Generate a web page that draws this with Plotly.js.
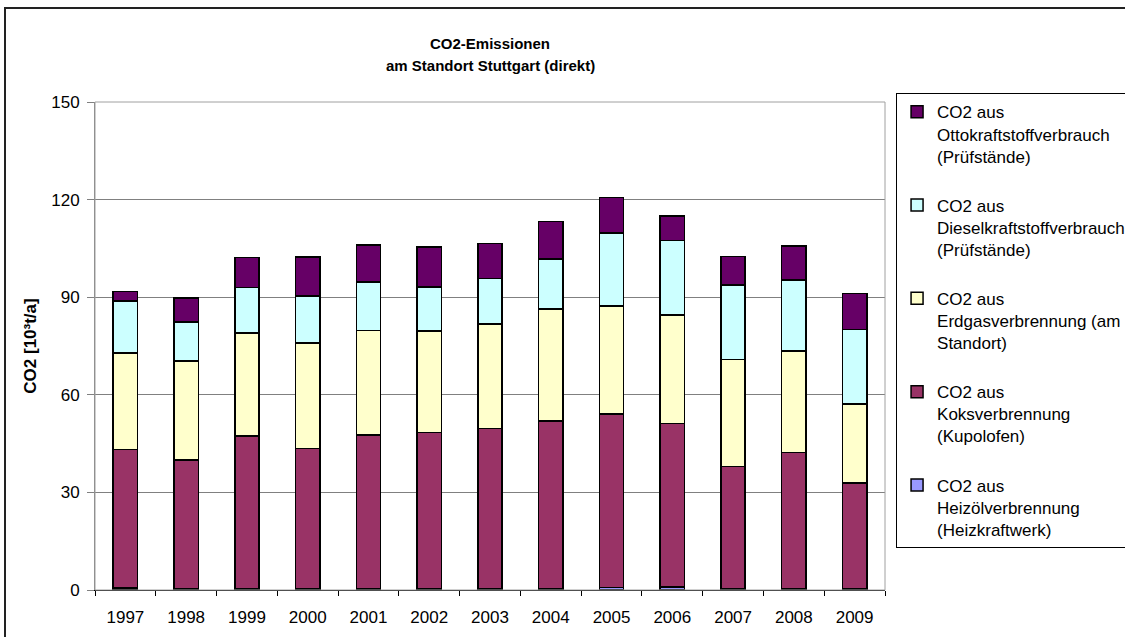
<!DOCTYPE html>
<html>
<head>
<meta charset="utf-8">
<script src="https://cdn.plot.ly/plotly-3.0.1.min.js"></script>
<style>
  html, body { margin: 0; padding: 0; background: #fff; }
  #chart { position: absolute; left: 0; top: 0; width: 1125px; height: 637px; overflow: hidden; }
  #frame { position: absolute; left: 4px; top: 7px; width: 1200px; height: 700px;
           border: 2px solid #222; pointer-events: none; box-sizing: border-box; }
</style>
</head>
<body>
<div id="chart"></div>
<div id="frame"></div>
<script>
const years = ['1997','1998','1999','2000','2001','2002','2003','2004','2005','2006','2007','2008','2009'];

const heizoel = [0.6, 0.5, 0.4, 0.4, 0.4, 0.5, 0.5, 0.5, 0.8, 0.9, 0.4, 0.5, 0.5];
const koks    = [42.6, 39.4, 46.9, 43.1, 47.3, 47.9, 49.2, 51.4, 53.3, 50.3, 37.5, 41.8, 32.4];
const erdgas  = [29.6, 30.5, 31.7, 32.5, 32.1, 31.2, 32.1, 34.4, 33.2, 33.4, 32.9, 31.1, 24.3];
const diesel  = [16.1, 12.0, 14.0, 14.4, 14.8, 13.6, 14.0, 15.4, 22.5, 22.9, 22.9, 21.9, 22.9];
const otto    = [2.8, 7.3, 9.2, 12.0, 11.5, 12.2, 10.7, 11.5, 10.8, 7.5, 8.8, 10.5, 11.0];

const names = [
  'CO2 aus<br>Heizölverbrennung<br>(Heizkraftwerk)',
  'CO2 aus<br>Koksverbrennung<br>(Kupolofen)',
  'CO2 aus<br>Erdgasverbrennung (am<br>Standort)',
  'CO2 aus<br>Dieselkraftstoffverbrauch<br>(Prüfstände)',
  'CO2 aus<br>Ottokraftstoffverbrauch<br>(Prüfstände)'
];
const series = [heizoel, koks, erdgas, diesel, otto];
const colors = ['#9999FF', '#993366', '#FFFFCC', '#CCFFFF', '#660066'];

const traces = series.map((vals, i) => ({
  type: 'bar',
  x: years,
  y: vals,
  name: names[i],
  legendgroup: 'g' + i,
  legendrank: 5 - i,
  marker: { color: colors[i], line: { color: '#000', width: 1.5 } },
  hoverinfo: 'x+y+name'
}));

const FAM = 'Liberation Sans, Arial, sans-serif';
const font = { family: FAM, size: 17, color: '#000' };
const titleFont = { family: 'Liberation Sans Narrow, Arial Narrow, Liberation Sans, Arial, sans-serif', size: 15, color: '#000' };

const layout = {
  width: 1125, height: 637,
  margin: { l: 95, r: 240, t: 102, b: 47, pad: 0, autoexpand: false },
  paper_bgcolor: 'rgba(0,0,0,0)',
  plot_bgcolor: '#fff',
  barmode: 'stack',
  bargap: 0.6,
  font: font,
  title: {
    text: '<b>CO2-Emissionen</b>',
    font: titleFont,
    x: 0.5, xref: 'paper', xanchor: 'center',
    y: 1 - 44 / 637, yref: 'container', yanchor: 'middle'
  },
  annotations: [{
    text: '<b>am Standort Stuttgart (direkt)</b>',
    xref: 'paper', yref: 'paper', x: 0.5, y: 1.074,
    xanchor: 'center', yanchor: 'middle', showarrow: false,
    font: titleFont
  }],
  xaxis: {
    type: 'category',
    showgrid: false,
    showline: true, linecolor: '#000', linewidth: 1,
    ticks: 'outside', tickson: 'boundaries', ticklen: 5, tickcolor: '#000',
    ticklabelstandoff: 12,
    tickfont: font
  },
  yaxis: {
    range: [0, 150],
    tickvals: [0, 30, 60, 90, 120, 150],
    ticktext: ['0', '30', '60', '90', '120', '150'],
    showgrid: true, gridcolor: '#808080', gridwidth: 1,
    zeroline: false,
    showline: true, linecolor: '#808080', linewidth: 1,
    ticks: 'outside', ticklen: 7, tickcolor: '#808080',
    ticklabelstandoff: 4,
    tickfont: font,
    title: {
      text: '<b>CO2 [10³t/a]</b>',
      font: { family: FAM, size: 17, color: '#000' },
      standoff: 10
    }
  },
  shapes: [{
    type: 'rect', xref: 'paper', yref: 'paper', x0: 0, x1: 1, y0: 0, y1: 1,
    line: { color: '#a0a0a0', width: 1 }, fillcolor: 'rgba(0,0,0,0)', layer: 'above'
  }],
  showlegend: true,
  legend: {
    x: 1.014, xanchor: 'left', y: 1.018, yanchor: 'top',
    traceorder: 'grouped',
    tracegroupgap: 24,
    valign: 'top',
    maxheight: 1,
    bgcolor: '#fff', bordercolor: '#000', borderwidth: 1,
    font: { family: FAM, size: 17, color: '#000' },
    itemwidth: 30
  }
};

Plotly.newPlot('chart', traces, layout, { displayModeBar: false, staticPlot: true });
</script>
</body>
</html>
